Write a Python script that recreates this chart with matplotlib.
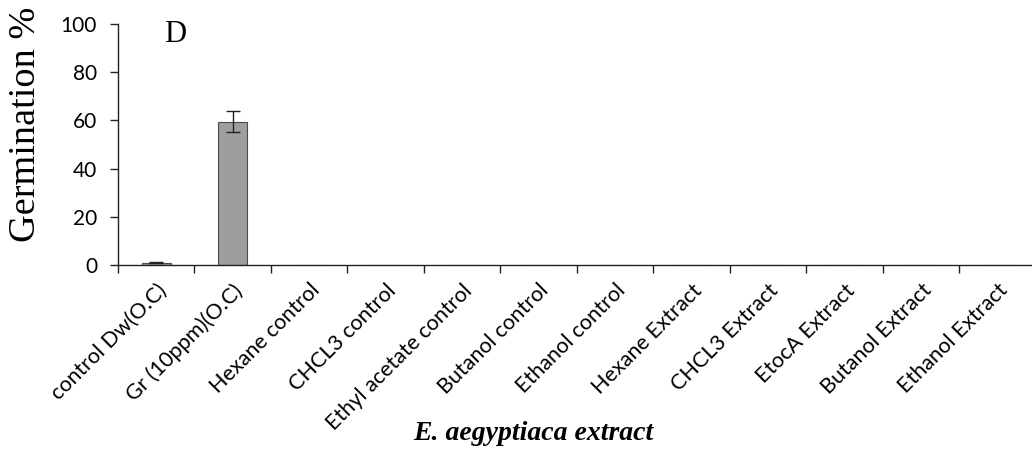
import matplotlib
matplotlib.use('Agg')
import matplotlib.pyplot as plt
import numpy as np

# ── Data ──────────────────────────────────────────────────────────────────────
categories = [
    'control Dw(O.C)', 'Gr (10ppm)(O.C)', 'Hexane control', 'CHCL3 control',
    'Ethyl acetate control', 'Butanol control', 'Ethanol control',
    'Hexane Extract', 'CHCL3 Extract', 'EtocA Extract', 'Butanol Extract',
    'Ethanol Extract',
]
germination = [1.0, 59.5, 0, 0, 0, 0, 0, 0, 0, 0, 0, 0]
errors      = [0.3, 4.5, 0, 0, 0, 0, 0, 0, 0, 0, 0, 0]
y_ticks     = [0, 20, 40, 60, 80, 100]

# ── Plot ──────────────────────────────────────────────────────────────────────
fig = plt.figure(figsize=(10.32, 4.5), dpi=100)
ax = fig.add_axes([0.1143, 0.4111, 0.8857, 0.5356])

x = np.arange(len(categories))
ax.bar(x, germination, width=0.38, color='#9e9e9e', edgecolor='#4a4a4a', lw=0.8)
has_err = [i for i, e in enumerate(errors) if e > 0]
ax.errorbar(x[has_err], [germination[i] for i in has_err], yerr=[errors[i] for i in has_err],
            fmt='none', ecolor='#222222', elinewidth=1.0, capsize=5, capthick=1.0)

ax.set_xlim(-0.5, 11.45)
ax.set_ylim(0, 100)
ax.set_yticks(y_ticks)
ax.set_yticklabels([str(v) for v in y_ticks], family='Lato', fontsize=15)

# category boundary ticks, labels centred on the bars
ax.set_xticks(np.arange(len(categories)) - 0.5)
ax.set_xticklabels([])
ax.tick_params(axis='x', which='major', direction='out', length=6, width=1, color='#222222')
ax.tick_params(axis='y', direction='out', length=6, width=1, color='#222222', pad=9)
ax.set_xticks(x, minor=True)
ax.set_xticklabels(categories, minor=True, rotation=45, ha='right', va='top',
                   rotation_mode='anchor', family='Lato', fontsize=15.5)
ax.tick_params(axis='x', which='minor', length=0, pad=11)

for side in ('top', 'right'):
    ax.spines[side].set_visible(False)
for side in ('left', 'bottom'):
    ax.spines[side].set_color('#222222')
    ax.spines[side].set_linewidth(1.0)

fig.text(26 / 1032, 1 - 124 / 450, 'Germination %', family='Liberation Serif', fontsize=27.5,
         rotation=90, ha='center', va='center')
fig.text(175 / 1032, 1 - 35 / 450, 'D', family='Liberation Serif', fontsize=22,
         ha='center', va='center')
fig.text(533 / 1032, 1 - 434 / 450, 'E. aegyptiaca extract', family='Liberation Serif',
         fontsize=20, fontweight='bold', style='italic', ha='center', va='center')

fig.savefig('out.png', dpi=100)
